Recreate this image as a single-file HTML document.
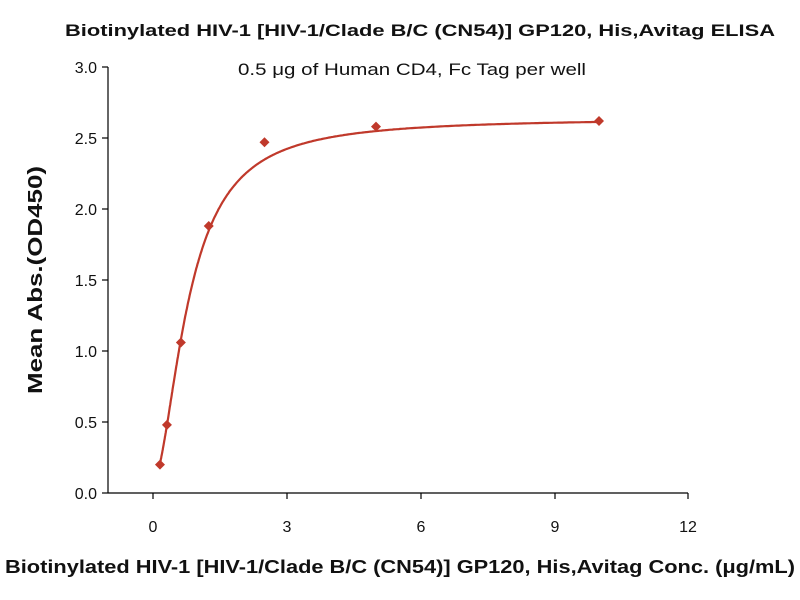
<!DOCTYPE html>
<html><head><meta charset="utf-8"><style>body{margin:0;background:#fff}svg{display:block}text{font-family:"Liberation Sans",sans-serif}</style></head><body>
<svg width="800" height="600" xmlns="http://www.w3.org/2000/svg">
<text x="65" y="36" textLength="710" lengthAdjust="spacingAndGlyphs" font-size="17" font-weight="bold" fill="#111">Biotinylated HIV-1 [HIV-1/Clade B/C (CN54)] GP120, His,Avitag ELISA</text>
<text x="238" y="75" textLength="348" lengthAdjust="spacingAndGlyphs" font-size="17" fill="#111">0.5 μg of Human CD4, Fc Tag per well</text>
<g stroke="#000" stroke-width="1.2" fill="none">
<line x1="108" y1="67" x2="108" y2="493"/>
<line x1="108" y1="493" x2="688" y2="493"/>
<line x1="102" y1="67" x2="108" y2="67"/><line x1="102" y1="138" x2="108" y2="138"/><line x1="102" y1="209" x2="108" y2="209"/><line x1="102" y1="280" x2="108" y2="280"/><line x1="102" y1="351" x2="108" y2="351"/><line x1="102" y1="422" x2="108" y2="422"/><line x1="102" y1="493" x2="108" y2="493"/>
<line x1="153" y1="493" x2="153" y2="499"/><line x1="287" y1="493" x2="287" y2="499"/><line x1="421" y1="493" x2="421" y2="499"/><line x1="555" y1="493" x2="555" y2="499"/><line x1="688" y1="493" x2="688" y2="499"/>
</g>
<g font-size="16" fill="#111" text-anchor="end">
<text x="97" y="73">3.0</text><text x="97" y="144">2.5</text><text x="97" y="215">2.0</text><text x="97" y="286">1.5</text><text x="97" y="357">1.0</text><text x="97" y="428">0.5</text><text x="97" y="499">0.0</text>
</g>
<g font-size="16" fill="#111" text-anchor="middle">
<text x="153" y="532">0</text><text x="287" y="532">3</text><text x="421" y="532">6</text><text x="555" y="532">9</text><text x="688" y="532">12</text>
</g>
<text x="5" y="573" textLength="790" lengthAdjust="spacingAndGlyphs" font-size="18" font-weight="bold" fill="#111">Biotinylated HIV-1 [HIV-1/Clade B/C (CN54)] GP120, His,Avitag Conc. (μg/mL)</text>
<text transform="translate(42,280) rotate(-90)" text-anchor="middle" font-size="20" font-weight="bold" fill="#111" textLength="228" lengthAdjust="spacingAndGlyphs">Mean Abs.(OD450)</text>
<path id="c" fill="none" stroke="#c0392b" stroke-width="2.2"/>
<g id="pts" fill="#c0392b"></g>
</svg>
<script>
var X=function(v){return 153+v*44.6},Y=function(v){return 493-v*142};
var d="";for(var i=0;i<=400;i++){var x=0.156+(10-0.156)*Math.pow(i/400,2);var y=0.08+2.56/(1+Math.pow(0.8/x,1.8));d+=(i?"L":"M")+X(x).toFixed(1)+","+Y(y).toFixed(1);}
document.getElementById("c").setAttribute("d",d);
var P=[[0.156,0.2],[0.3125,0.48],[0.625,1.06],[1.25,1.88],[2.5,2.47],[5,2.58],[10,2.62]],g=document.getElementById("pts"),s="";
P.forEach(function(p){var cx=X(p[0]),cy=Y(p[1]);s+='<polygon points="'+cx+','+(cy-5)+' '+(cx+5)+','+cy+' '+cx+','+(cy+5)+' '+(cx-5)+','+cy+'"/>';});
g.innerHTML=s;
</script>
</body></html>
